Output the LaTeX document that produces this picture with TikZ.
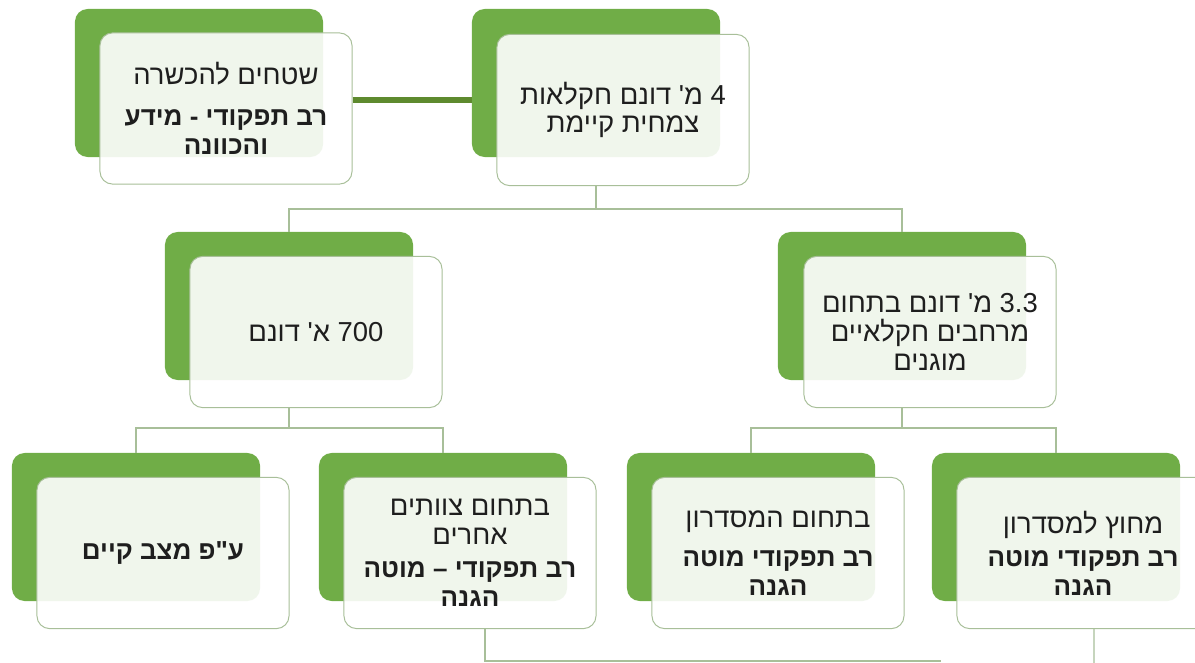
\documentclass[tikz,border=0pt]{standalone}
\usepackage{fontspec}
\newfontfamily\heb[Script=Hebrew,Ligatures=TeXOff]{Liberation Sans}
\TeXXeTstate=1
\definecolor{leaf}{HTML}{70AD47}
\definecolor{moss}{HTML}{5E8A2E}
\definecolor{twig}{HTML}{A8BF99}
\definecolor{ink}{HTML}{1E1E1E}
\newcommand{\rl}[1]{{\beginR #1\endR}}
\newcommand{\rlb}[1]{{\fontsize{18.5}{20}\selectfont\bfseries\beginR #1\endR}}

\begin{document}
\begin{tikzpicture}[x=0.025cm,y=-0.025cm,font=\heb\fontsize{19.5}{20.5}\selectfont,
 slab/.style={fill=leaf,rounded corners=9pt,minimum width=6.2cm,minimum height=3.7cm,inner sep=0pt},
 card/.style={draw=twig,line width=.7pt,fill=white,fill opacity=.9,text opacity=1,text=ink,
  rounded corners=9pt,minimum width=6.3cm,minimum height=3.78cm,align=center,inner sep=2pt},
 tie/.style={draw=moss,line width=4.4pt},
 branch/.style={draw=twig,line width=1pt}]
\path[use as bounding box] (0,0) rectangle (1195,663);
\clip (0,0) rectangle (1195,663);

% top row
\node[slab] (sSkill) at (199,83) {};
\node[card] (skill) at (226,108.5) {\rl{שטחים להכשרה}\\[9pt]\rlb{רב תפקודי - מידע}\\\rlb{והכוונה}};
\node[slab] (sRoot) at (596,83) {};
\node[card] (root) at (623,110) {\rl{\beginL 4\endL{} מ' דונם חקלאות}\\\rl{צמחית קיימת}};

% middle row
\node[slab] (sSmall) at (289,306) {};
\node[card] (small) at (316,332) {\rl{\beginL 700\endL{} א' דונם}};
\node[slab] (sBig) at (902,306) {};
\node[card] (big) at (930,332) {\rl{\beginL 3.3\endL{} מ' דונם בתחום}\\\rl{מרחבים חקלאיים}\\\rl{מוגנים}};

% bottom row
\node[slab] (sNow) at (136,527) {};
\node[card] (now) at (163,553) {\rlb{ע"פ מצב קיים}};
\node[slab] (sTeam) at (443,527) {};
\node[card] (team) at (470,553) {\rl{בתחום צוותים}\\\rl{אחרים}\\[3pt]\rlb{רב תפקודי – מוטה}\\\rlb{הגנה}};
\node[slab] (sIn) at (751,527) {};
\node[card] (incor) at (778,553) {\rl{בתחום המסדרון}\\[7pt]\rlb{רב תפקודי מוטה}\\\rlb{הגנה}};
\node[slab] (sOut) at (1056,527) {};
\node[card] (outcor) at (1083,553) {\rl{מחוץ למסדרון}\\[3pt]\rlb{רב תפקודי מוטה}\\\rlb{הגנה}};

% connectors
\draw[tie] ([yshift=.21cm]skill.east) coordinate (tieA) -- (tieA -| sRoot.west);
\draw[branch] (sRoot |- root.south) -- ++(0,23) coordinate (j0) -| (sSmall.north);
\draw[branch] (j0) -| (sBig.north);
\draw[branch] (sSmall |- small.south) -- ++(0,20) coordinate (j1) -| (sNow.north);
\draw[branch] (j1) -| (sTeam.north);
\draw[branch] (sBig |- big.south) -- ++(0,20) coordinate (j2) -| (sIn.north);
\draw[branch] (j2) -| (sOut.north);

% lines running off the bottom edge
\coordinate (cutA) at (941,661);
\coordinate (cutB) at (1094,663);
\draw[branch] ([xshift=.375cm]team.south) |- (cutA);
\draw[branch] ([xshift=.275cm]outcor.south) -- (cutB);
\end{tikzpicture}
\end{document}
